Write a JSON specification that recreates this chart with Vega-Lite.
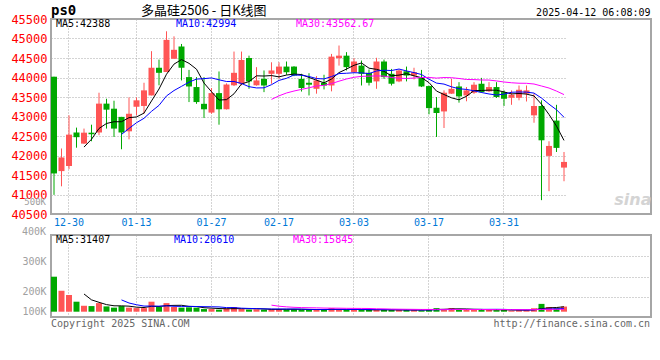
{
  "$schema": "https://vega.github.io/schema/vega-lite/v6.json",
  "background": "#ffffff",
  "padding": 0,
  "autosize": {"type": "pad"},
  "spacing": 21,
  "bounds": "flush",
  "config": {
    "font": "DejaVu Sans Mono",
    "view": {"stroke": "#a6a6a6", "strokeWidth": 2},
    "axis": {"gridColor": "#a8a8a8", "gridDash": [1, 2], "gridWidth": 1}
  },
  "datasets": {
    "k": [
      {"d":"2024-12-26","o":44020,"h":44020,"l":40990,"c":41540,"v":224000},
      {"d":"2024-12-27","o":41600,"h":42180,"l":41210,"c":41950,"v":134000},
      {"d":"2024-12-30","o":41730,"h":43030,"l":41650,"c":42535,"v":107000},
      {"d":"2024-12-31","o":42590,"h":42715,"l":42200,"c":42470,"v":64000},
      {"d":"2025-01-02","o":42305,"h":42690,"l":42300,"c":42585,"v":38000},
      {"d":"2025-01-03","o":42585,"h":42790,"l":42365,"c":42545,"v":36000},
      {"d":"2025-01-06","o":42590,"h":43610,"l":42520,"c":43330,"v":55000},
      {"d":"2025-01-07","o":43330,"h":43455,"l":42690,"c":43175,"v":34000},
      {"d":"2025-01-08","o":43200,"h":43405,"l":42475,"c":42690,"v":26000},
      {"d":"2025-01-09","o":42990,"h":42990,"l":42160,"c":42590,"v":36000},
      {"d":"2025-01-10","o":42620,"h":43490,"l":42415,"c":43070,"v":26000},
      {"d":"2025-01-13","o":43250,"h":43490,"l":43030,"c":43415,"v":23000},
      {"d":"2025-01-14","o":43270,"h":43865,"l":43070,"c":43670,"v":23000},
      {"d":"2025-01-15","o":43540,"h":44675,"l":43540,"c":44250,"v":64000},
      {"d":"2025-01-16","o":44250,"h":44460,"l":43800,"c":44120,"v":30000},
      {"d":"2025-01-17","o":44140,"h":45185,"l":44140,"c":44965,"v":55000},
      {"d":"2025-01-20","o":44480,"h":45055,"l":44480,"c":44710,"v":30000},
      {"d":"2025-01-21","o":44795,"h":44860,"l":43925,"c":44250,"v":26000},
      {"d":"2025-01-22","o":44010,"h":44195,"l":43370,"c":43770,"v":28000},
      {"d":"2025-01-23","o":43755,"h":44010,"l":43325,"c":43370,"v":26000},
      {"d":"2025-01-24","o":43325,"h":44010,"l":42960,"c":43185,"v":17000},
      {"d":"2025-01-27","o":43100,"h":43730,"l":43070,"c":43600,"v":17000},
      {"d":"2025-02-05","o":43600,"h":44155,"l":42790,"c":43185,"v":13000},
      {"d":"2025-02-06","o":43185,"h":43850,"l":43180,"c":43820,"v":21000},
      {"d":"2025-02-07","o":43800,"h":44665,"l":43780,"c":44120,"v":30000},
      {"d":"2025-02-10","o":43840,"h":44665,"l":43800,"c":44450,"v":17000},
      {"d":"2025-02-11","o":44500,"h":44560,"l":43710,"c":43900,"v":13000},
      {"d":"2025-02-12","o":43800,"h":44265,"l":43790,"c":43925,"v":15000},
      {"d":"2025-02-13","o":43965,"h":44180,"l":43625,"c":43795,"v":13000},
      {"d":"2025-02-14","o":44095,"h":44390,"l":43840,"c":44180,"v":17000},
      {"d":"2025-02-17","o":44095,"h":44390,"l":43965,"c":44280,"v":17000},
      {"d":"2025-02-18","o":44280,"h":44410,"l":44070,"c":44135,"v":15000},
      {"d":"2025-02-19","o":44280,"h":44290,"l":44035,"c":44050,"v":15000},
      {"d":"2025-02-20","o":43965,"h":44095,"l":43640,"c":43730,"v":13000},
      {"d":"2025-02-21","o":43865,"h":44110,"l":43540,"c":43815,"v":13000},
      {"d":"2025-02-24","o":43710,"h":44035,"l":43585,"c":43925,"v":13000},
      {"d":"2025-02-25","o":43865,"h":44070,"l":43695,"c":43795,"v":13000},
      {"d":"2025-02-26","o":43795,"h":44605,"l":43645,"c":44535,"v":23000},
      {"d":"2025-02-27","o":44495,"h":44820,"l":44305,"c":44560,"v":13000},
      {"d":"2025-02-28","o":44560,"h":44650,"l":44180,"c":44265,"v":11000},
      {"d":"2025-03-03","o":44135,"h":44495,"l":44120,"c":44410,"v":13000},
      {"d":"2025-03-04","o":44305,"h":44435,"l":43795,"c":44095,"v":13000},
      {"d":"2025-03-05","o":44120,"h":44205,"l":43795,"c":43865,"v":11000},
      {"d":"2025-03-06","o":43900,"h":44505,"l":43710,"c":44410,"v":13000},
      {"d":"2025-03-07","o":44410,"h":44460,"l":43965,"c":44010,"v":11000},
      {"d":"2025-03-10","o":44095,"h":44220,"l":43795,"c":43840,"v":11000},
      {"d":"2025-03-11","o":43900,"h":44200,"l":43880,"c":44180,"v":11000},
      {"d":"2025-03-12","o":44160,"h":44280,"l":43900,"c":44050,"v":11000},
      {"d":"2025-03-13","o":44050,"h":44250,"l":43950,"c":44135,"v":11000},
      {"d":"2025-03-14","o":44010,"h":44195,"l":43755,"c":43770,"v":8500},
      {"d":"2025-03-17","o":43780,"h":43790,"l":43055,"c":43215,"v":17000},
      {"d":"2025-03-18","o":43225,"h":43500,"l":42475,"c":43090,"v":23000},
      {"d":"2025-03-19","o":43130,"h":43670,"l":42705,"c":43610,"v":17000},
      {"d":"2025-03-20","o":43585,"h":43965,"l":43580,"c":43710,"v":23000},
      {"d":"2025-03-21","o":43770,"h":43880,"l":43355,"c":43515,"v":11000},
      {"d":"2025-03-24","o":43540,"h":43755,"l":43390,"c":43670,"v":13000},
      {"d":"2025-03-25","o":43610,"h":43880,"l":43580,"c":43815,"v":13000},
      {"d":"2025-03-26","o":43840,"h":43990,"l":43610,"c":43625,"v":13000},
      {"d":"2025-03-27","o":43645,"h":43880,"l":43625,"c":43755,"v":13000},
      {"d":"2025-03-28","o":43755,"h":43880,"l":43475,"c":43500,"v":10000},
      {"d":"2025-03-31","o":43625,"h":43670,"l":43270,"c":43455,"v":12000},
      {"d":"2025-04-01","o":43480,"h":43670,"l":43300,"c":43560,"v":7000},
      {"d":"2025-04-02","o":43480,"h":43795,"l":43415,"c":43685,"v":10000},
      {"d":"2025-04-03","o":43585,"h":43795,"l":43385,"c":43670,"v":10000},
      {"d":"2025-04-07","o":43030,"h":43585,"l":42840,"c":43270,"v":22000},
      {"d":"2025-04-08","o":43270,"h":43415,"l":40855,"c":42390,"v":50000},
      {"d":"2025-04-09","o":41990,"h":42365,"l":41085,"c":42245,"v":30000},
      {"d":"2025-04-10","o":42895,"h":43300,"l":42090,"c":42195,"v":22000},
      {"d":"2025-04-11","o":41690,"h":42090,"l":41340,"c":41835,"v":33000}
    ]
  },
  "vconcat": [
    {
      "width": 600,
      "height": 195,
      "data": {"name": "k"},
      "resolve": {"axis": {"x": "independent"}},
      "layer": [
        {
          "mark": {"type": "rule", "strokeWidth": 1},
          "encoding": {
            "x": {"field": "d", "type": "nominal", "title": null,
              "scale": {"type": "band", "paddingInner": 0.2, "paddingOuter": 0, "align": 0, "round": false, "range": [0, 516]},
              "axis": {"orient": "bottom", "values": ["2024-12-30","2025-01-13","2025-01-27","2025-02-17","2025-03-03","2025-03-17","2025-03-31"],
                "labelExpr": "slice(datum.value, 5)", "bandPosition": 0.42, "grid": true, "ticks": false, "domain": false,
                "labelAngle": 0, "labelOverlap": false, "labelColor": "#0078d7", "labelFont": "DejaVu Sans Mono", "labelFontSize": 10, "labelPadding": 3,
                "title": "sina", "titleX": 600, "titleY": -15, "titleAlign": "right", "titleBaseline": "middle", "titleAngle": 0,
                "titleFont": "DejaVu Sans", "titleFontSize": 16, "titleFontStyle": "italic", "titleFontWeight": "bold", "titleColor": "#d4d4d4"}},
            "y": {"field": "l", "type": "quantitative", "title": null,
              "scale": {"domain": [40500, 45500], "nice": false, "zero": false},
              "axis": {"values": [40500,41000,41500,42000,42500,43000,43500,44000,44500,45000,45500], "tickCount": 20, "format": "d", "labelOverlap": false, "grid": true, "ticks": false, "domain": false,
                "labelColor": "#ff0000", "labelFont": "DejaVu Sans Mono", "labelFontSize": 12, "labelPadding": 4, "minExtent": 50, "maxExtent": 50, "title": null}},
            "y2": {"field": "h"},
            "color": {"condition": {"test": "datum.c >= datum.o", "value": "#ff5555"}, "value": "#00a800"}
          }
        },
        {
          "mark": {"type": "bar"},
          "encoding": {
            "x": {"field": "d", "type": "nominal", "title": null,
              "scale": {"type": "band", "paddingInner": 0.2, "paddingOuter": 0, "align": 0, "round": false, "range": [0, 516]},
              "axis": {"orient": "top", "labels": false, "ticks": false, "domain": false, "grid": false, "minExtent": 18, "maxExtent": 18,
                "title": "2025-04-12 06:08:09", "titleX": 599, "titleY": -6.5, "titleAlign": "right", "titleBaseline": "middle", "titleAngle": 0,
                "titleFont": "DejaVu Sans Mono", "titleFontSize": 10, "titleFontWeight": "normal", "titleColor": "#000000"}},
            "y": {"field": "o", "type": "quantitative", "title": null, "scale": {"domain": [40500, 45500], "nice": false, "zero": false}},
            "y2": {"field": "c"},
            "color": {"condition": {"test": "datum.c >= datum.o", "value": "#ff5555"}, "value": "#00a800"}
          }
        },
        {
          "transform": [
            {"window": [{"op": "mean", "field": "c", "as": "ma"}, {"op": "count", "as": "n"}], "frame": [-4, 0], "sort": [{"field": "d"}]},
            {"filter": "datum.n >= 5"}
          ],
          "mark": {"type": "line", "color": "#000000", "strokeWidth": 1},
          "encoding": {
            "x": {"field": "d", "type": "nominal", "axis": null, "scale": {"type": "band", "paddingInner": 0.2, "paddingOuter": 0, "align": 0, "round": false, "range": [0, 516]}},
            "y": {"field": "ma", "type": "quantitative", "title": null, "scale": {"domain": [40500, 45500], "nice": false, "zero": false}}
          }
        },
        {
          "transform": [
            {"window": [{"op": "mean", "field": "c", "as": "ma"}, {"op": "count", "as": "n"}], "frame": [-9, 0], "sort": [{"field": "d"}]},
            {"filter": "datum.n >= 10"}
          ],
          "mark": {"type": "line", "color": "#0000ff", "strokeWidth": 1},
          "encoding": {
            "x": {"field": "d", "type": "nominal", "axis": null, "scale": {"type": "band", "paddingInner": 0.2, "paddingOuter": 0, "align": 0, "round": false, "range": [0, 516]}},
            "y": {"field": "ma", "type": "quantitative", "title": null, "scale": {"domain": [40500, 45500], "nice": false, "zero": false}}
          }
        },
        {
          "transform": [
            {"window": [{"op": "mean", "field": "c", "as": "ma"}, {"op": "count", "as": "n"}], "frame": [-29, 0], "sort": [{"field": "d"}]},
            {"filter": "datum.n >= 30"}
          ],
          "mark": {"type": "line", "color": "#ff00ff", "strokeWidth": 1},
          "encoding": {
            "x": {"field": "d", "type": "nominal", "axis": null, "scale": {"type": "band", "paddingInner": 0.2, "paddingOuter": 0, "align": 0, "round": false, "range": [0, 516]}},
            "y": {"field": "ma", "type": "quantitative", "title": null, "scale": {"domain": [40500, 45500], "nice": false, "zero": false}}
          }
        },
        {
          "data": {"values": [{"t": "MA5:42388"}]},
          "mark": {"type": "text", "align": "left", "baseline": "middle", "dx": 2, "font": "DejaVu Sans Mono", "fontSize": 10, "color": "#000000"},
          "encoding": {
            "x": {"datum": "2024-12-26", "type": "nominal", "axis": null},
            "y": {"datum": 45359, "type": "quantitative"},
            "text": {"field": "t"}
          }
        },
        {
          "data": {"values": [{"t": "MA10:42994"}]},
          "mark": {"type": "text", "align": "left", "baseline": "middle", "dx": 2, "font": "DejaVu Sans Mono", "fontSize": 10, "color": "#0000ff"},
          "encoding": {
            "x": {"datum": "2025-01-20", "type": "nominal", "axis": null},
            "y": {"datum": 45359, "type": "quantitative"},
            "text": {"field": "t"}
          }
        },
        {
          "data": {"values": [{"t": "MA30:43562.67"}]},
          "mark": {"type": "text", "align": "left", "baseline": "middle", "dx": 2, "font": "DejaVu Sans Mono", "fontSize": 10, "color": "#ff00ff"},
          "encoding": {
            "x": {"datum": "2025-02-19", "type": "nominal", "axis": null},
            "y": {"datum": 45359, "type": "quantitative"},
            "text": {"field": "t"}
          }
        },
        {
          "data": {"values": [{"t": "ps0"}]},
          "mark": {"type": "text", "align": "left", "baseline": "middle", "dx": -3, "font": "DejaVu Sans Mono", "fontSize": 14, "fontWeight": "bold", "color": "#000000"},
          "encoding": {
            "x": {"datum": "2024-12-26", "type": "nominal", "axis": null},
            "y": {"datum": 45710, "type": "quantitative"},
            "text": {"field": "t"}
          }
        },
        {
          "data": {"values": [{"t": "多晶硅2506 - 日K线图"}]},
          "mark": {"type": "text", "align": "left", "baseline": "middle", "dx": -3, "font": "Noto Sans CJK SC", "fontSize": 13, "color": "#000000"},
          "encoding": {
            "x": {"datum": "2025-01-14", "type": "nominal", "axis": null},
            "y": {"datum": 45705, "type": "quantitative"},
            "text": {"field": "t"}
          }
        }
      ]
    },
    {
      "width": 600,
      "height": 82,
      "data": {"name": "k"},
      "resolve": {"axis": {"y": "independent"}},
      "layer": [
        {
          "mark": {"type": "bar"},
          "encoding": {
            "x": {"field": "d", "type": "nominal", "title": null,
              "scale": {"type": "band", "paddingInner": 0.2, "paddingOuter": 0, "align": 0, "round": false, "range": [0, 516]},
              "axis": {"values": ["2024-12-30","2025-01-13","2025-01-27","2025-02-17","2025-03-03","2025-03-17","2025-03-31"],
                "bandPosition": 0.42, "grid": true, "labels": false, "ticks": false, "domain": false, "title": null}},
            "y": {"field": "v", "type": "quantitative", "title": null,
              "scale": {"domain": [-33920, 490880], "nice": false},
              "axis": {"orient": "left", "values": [320000, 128000, 2560], "tickCount": 20,
                "labelExpr": "datum.value > 300000 ? '300K' : datum.value > 100000 ? '200K' : '100K'",
                "labelOverlap": false, "grid": false, "ticks": false, "domain": false, "labelColor": "#a0a0a0", "labelFont": "DejaVu Sans Mono", "labelFontSize": 10,
                "labelPadding": 5, "minExtent": 50, "maxExtent": 50, "title": null}},
            "y2": {"datum": 0},
            "color": {"condition": {"test": "datum.c >= datum.o", "value": "#ff5555"}, "value": "#00a800"}
          }
        },
        {
          "transform": [
            {"window": [{"op": "mean", "field": "v", "as": "mv"}, {"op": "count", "as": "n"}], "frame": [-4, 0], "sort": [{"field": "d"}]},
            {"filter": "datum.n >= 5"}
          ],
          "mark": {"type": "line", "color": "#000000", "strokeWidth": 1},
          "encoding": {
            "x": {"field": "d", "type": "nominal", "scale": {"type": "band", "paddingInner": 0.2, "paddingOuter": 0, "align": 0, "round": false, "range": [0, 516]}},
            "y": {"field": "mv", "type": "quantitative", "title": null, "scale": {"domain": [-33920, 490880], "nice": false},
              "axis": {"orient": "right", "values": [354560, 225280, 96000], "tickCount": 20, "grid": true, "labels": false, "ticks": false, "domain": false,
                "minExtent": 0, "maxExtent": 0, "title": null}}
          }
        },
        {
          "transform": [
            {"window": [{"op": "mean", "field": "v", "as": "mv"}, {"op": "count", "as": "n"}], "frame": [-9, 0], "sort": [{"field": "d"}]},
            {"filter": "datum.n >= 10"}
          ],
          "mark": {"type": "line", "color": "#0000ff", "strokeWidth": 1},
          "encoding": {
            "x": {"field": "d", "type": "nominal", "scale": {"type": "band", "paddingInner": 0.2, "paddingOuter": 0, "align": 0, "round": false, "range": [0, 516]}},
            "y": {"field": "mv", "type": "quantitative", "title": null, "axis": null, "scale": {"domain": [-33920, 490880], "nice": false}}
          }
        },
        {
          "transform": [
            {"window": [{"op": "mean", "field": "v", "as": "mv"}, {"op": "count", "as": "n"}], "frame": [-29, 0], "sort": [{"field": "d"}]},
            {"filter": "datum.n >= 30"}
          ],
          "mark": {"type": "line", "color": "#ff00ff", "strokeWidth": 1},
          "encoding": {
            "x": {"field": "d", "type": "nominal", "scale": {"type": "band", "paddingInner": 0.2, "paddingOuter": 0, "align": 0, "round": false, "range": [0, 516]}},
            "y": {"field": "mv", "type": "quantitative", "title": null, "axis": null, "scale": {"domain": [-33920, 490880], "nice": false}}
          }
        },
        {
          "data": {"values": [{"t": "MA5:31407"}]},
          "mark": {"type": "text", "align": "left", "baseline": "middle", "dx": 2, "font": "DejaVu Sans Mono", "fontSize": 10, "color": "#000000"},
          "encoding": {
            "x": {"datum": "2024-12-26", "type": "nominal"},
            "y": {"datum": 462080, "type": "quantitative", "axis": null},
            "text": {"field": "t"}
          }
        },
        {
          "data": {"values": [{"t": "MA10:20610"}]},
          "mark": {"type": "text", "align": "left", "baseline": "middle", "dx": 0, "font": "DejaVu Sans Mono", "fontSize": 10, "color": "#0000ff"},
          "encoding": {
            "x": {"datum": "2025-01-20", "type": "nominal"},
            "y": {"datum": 462080, "type": "quantitative", "axis": null},
            "text": {"field": "t"}
          }
        },
        {
          "data": {"values": [{"t": "MA30:15845"}]},
          "mark": {"type": "text", "align": "left", "baseline": "middle", "dx": -1, "font": "DejaVu Sans Mono", "fontSize": 10, "color": "#ff00ff"},
          "encoding": {
            "x": {"datum": "2025-02-19", "type": "nominal"},
            "y": {"datum": 462080, "type": "quantitative", "axis": null},
            "text": {"field": "t"}
          }
        },
        {
          "data": {"values": [{"t": "400K"}]},
          "mark": {"type": "text", "align": "right", "baseline": "middle", "dx": -8, "font": "DejaVu Sans Mono", "fontSize": 10, "color": "#a0a0a0"},
          "encoding": {
            "x": {"datum": "2024-12-26", "type": "nominal"},
            "y": {"datum": 512000, "type": "quantitative", "axis": null},
            "text": {"field": "t"}
          }
        },
        {
          "data": {"values": [{"t": "500K"}]},
          "mark": {"type": "text", "align": "right", "baseline": "middle", "dx": -8, "font": "DejaVu Sans Mono", "fontSize": 9, "color": "#a0a0a0"},
          "encoding": {
            "x": {"datum": "2024-12-26", "type": "nominal"},
            "y": {"datum": 702000, "type": "quantitative", "axis": null},
            "text": {"field": "t"}
          }
        },
        {
          "data": {"values": [{"t": "Copyright 2025 SINA.COM"}]},
          "mark": {"type": "text", "align": "left", "baseline": "middle", "dx": -3, "font": "DejaVu Sans Mono", "fontSize": 10, "color": "#666666"},
          "encoding": {
            "x": {"datum": "2024-12-26", "type": "nominal"},
            "y": {"datum": -78720, "type": "quantitative", "axis": null},
            "text": {"field": "t"}
          }
        },
        {
          "data": {"values": [{"t": "http://finance.sina.com.cn"}]},
          "mark": {"type": "text", "align": "right", "baseline": "middle", "dx": 86, "font": "DejaVu Sans Mono", "fontSize": 10, "color": "#666666"},
          "encoding": {
            "x": {"datum": "2025-04-11", "type": "nominal"},
            "y": {"datum": -78720, "type": "quantitative", "axis": null},
            "text": {"field": "t"}
          }
        }
      ]
    }
  ]
}
